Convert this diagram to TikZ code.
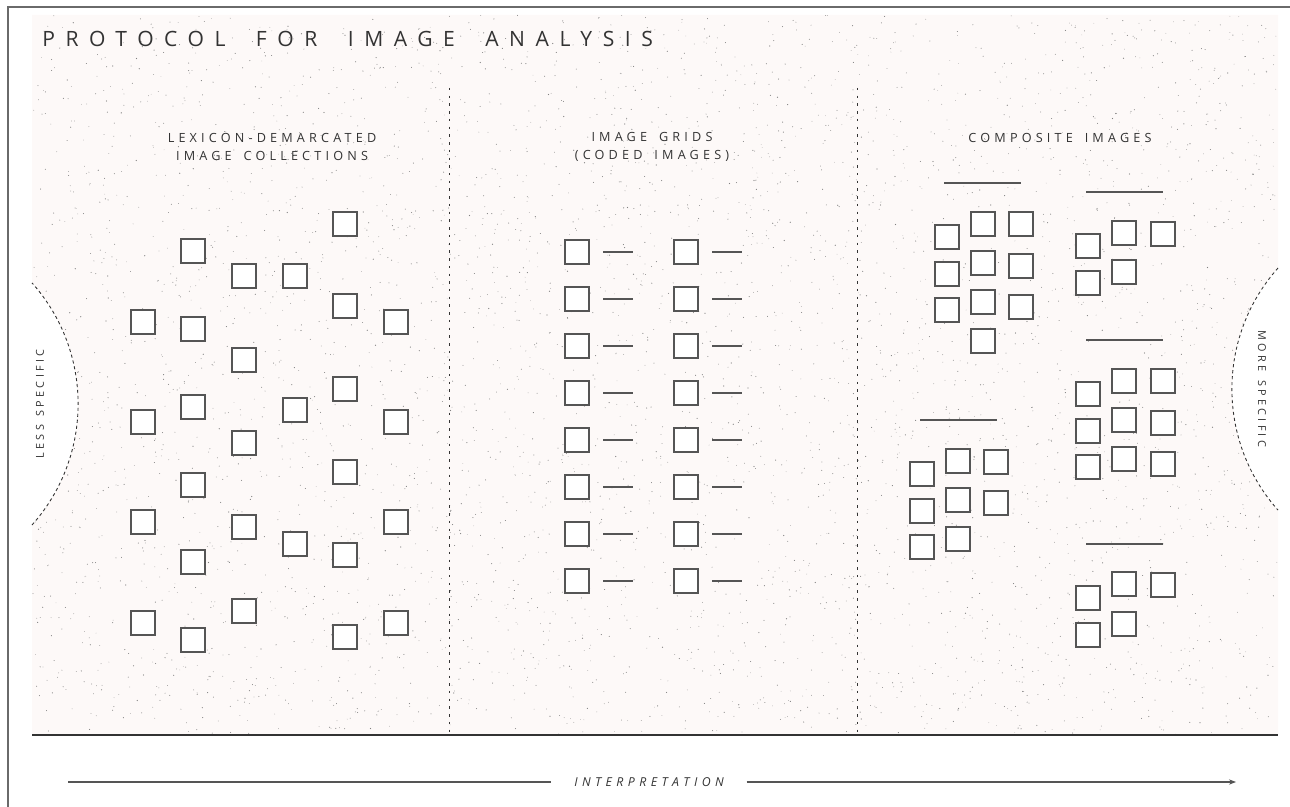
\documentclass[tikz,border=0pt]{standalone}
\usepackage{fontspec}
\setmainfont{Open Sans}
\newfontfamily\titelfont[LetterSpace=50,WordSpace=1.9]{Open Sans}
\newfontfamily\kopffont[LetterSpace=33,WordSpace=1.6]{Open Sans}
\newfontfamily\seitenfont[LetterSpace=30,WordSpace=1.4]{Open Sans}
\newfontfamily\pfeilfont[LetterSpace=36]{Open Sans}
\usetikzlibrary{arrows.meta}
\definecolor{rahmen}{HTML}{6A6A6A}
\definecolor{tinte}{HTML}{333333}
\definecolor{grau}{HTML}{555555}
\definecolor{hgrau}{HTML}{808080}
\definecolor{rosa}{HTML}{FDF9F8}
\tikzset{
  bild/.style={draw=grau,fill=white,line width=0.6pt,minimum size=0.48cm,inner sep=0pt},
  strich/.style={grau,line width=0.6pt},
  trenn/.style={tinte,line width=0.5pt,dash pattern=on 1.4pt off 3pt},
  bogen/.style={tinte,line width=0.5pt,dash pattern=on 1.8pt off 1.6pt},
  kopf/.style={tinte,align=center,inner sep=0pt,font=\kopffont\fontsize{7.2}{10.2}\selectfont},
  seite/.style={tinte,inner sep=0pt,font=\seitenfont\fontsize{6.2}{8}\selectfont},
  punkt/.style={fill=hgrau},
}

\begin{document}
\begin{tikzpicture}[x=0.02cm,y=-0.02cm]
  \useasboundingbox (0,0) rectangle (1290,807);
  \begin{scope}
    \clip (32,15) -- (1278,15) -- (1278,268) arc[start angle=221.7,end angle=138.3,radius=182]
      -- (1278,735) -- (32,735) -- (32,525) arc[start angle=41.7,end angle=-41.7,radius=182] -- cycle;
    \fill[rosa] (0,0) rectangle (1290,807);
    \pgfmathsetseed{12}
    \foreach \i in {1,...,4500}{
      \pgfmathsetmacro{\px}{32+1246*rnd}
      \pgfmathsetmacro{\py}{15+720*rnd}
      \pgfmathsetmacro{\pr}{0.006+0.006*rnd}
      \fill[punkt] (\px,\py) circle (\pr cm);
    }
  \end{scope}
  \draw[rahmen,line width=1.1pt] (8,807) -- (8,7) -- (1290,7);
  \node[tinte,anchor=base west,inner sep=0pt,font=\titelfont\fontsize{12}{14}\selectfont] (titel) at (42,47) {PROTOCOL FOR IMAGE ANALYSIS};
  \draw[trenn] (449,88) -- (449,735);
  \draw[trenn] (857,88) -- (857,735);
  \draw[bogen] (1278,268) arc[start angle=221.7,end angle=138.3,radius=182];
  \draw[bogen] (32,525) arc[start angle=41.7,end angle=-41.7,radius=182];
  \draw[tinte,line width=0.9pt] (32,735) -- (1278,735);
  \node[kopf] (kopfa) at (272,147) {LEXICON-DEMARCATED\\IMAGE COLLECTIONS};
  \node[kopf] (kopfb) at (652,147) {IMAGE GRIDS\\(CODED IMAGES)};
  \node[kopf] (kopfc) at (1060,138) {COMPOSITE IMAGES};
  \node[seite,rotate=90] (weniger) at (40,404) {LESS SPECIFIC};
  \node[seite,rotate=-90] (mehr) at (1262,389) {MORE SPECIFIC};
  \foreach \x/\y [count=\i] in {345/224,193/251,244/276,295/276,345/306,143/322,193/329,396/322,
    244/360,345/389,193/407,295/410,143/422,396/422,244/443,345/472,193/485,143/522,396/522,
    244/527,295/544,345/555,193/562,244/611,143/623,396/623,193/640,345/637}
    \node[bild] (l\i) at (\x,\y) {};
  \foreach \y [count=\i] in {252,299,346,393,440,487,534,581}{
    \node[bild] (ga\i) at (577,\y) {};
    \node[bild] (gb\i) at (686,\y) {};
    \draw[strich] (603,\y) -- (633,\y);
    \draw[strich] (712,\y) -- (742,\y);
  }
  \foreach \xa/\xb/\y in {944/1021/183,1086/1163/192,1086/1163/340,920/997/420,1086/1163/544}
    \draw[strich] (\xa,\y) -- (\xb,\y);
  \foreach \x/\y [count=\i] in {947/237,947/274,947/310,983/224,983/263,983/302,983/341,1021/224,1021/266,1021/307}
    \node[bild] (ka\i) at (\x,\y) {};
  \foreach \x/\y [count=\i] in {1088/246,1088/283,1124/233,1124/272,1163/234}
    \node[bild] (kb\i) at (\x,\y) {};
  \foreach \x/\y [count=\i] in {1088/394,1088/431,1088/467,1124/381,1124/420,1124/459,1163/381,1163/423,1163/464}
    \node[bild] (kc\i) at (\x,\y) {};
  \foreach \x/\y [count=\i] in {922/474,922/511,922/547,958/461,958/500,958/539,996/462,996/503}
    \node[bild] (kd\i) at (\x,\y) {};
  \foreach \x/\y [count=\i] in {1088/598,1088/635,1124/584,1124/624,1163/585}
    \node[bild] (ke\i) at (\x,\y) {};
  \node[tinte,inner ysep=0pt,inner xsep=0.45cm,font=\pfeilfont\itshape\fontsize{7}{8}\selectfont] (deutung) at (649,782) {INTERPRETATION};
  \coordinate (pfeilanfang) at (68,782);
  \coordinate (pfeilende) at (1236,782);
  \draw[grau,line width=0.6pt] (pfeilanfang) -- (deutung.west);
  \draw[grau,line width=0.6pt,-{Stealth[length=4pt,width=3pt]}] (deutung.east) -- (pfeilende);
\end{tikzpicture}
\end{document}
